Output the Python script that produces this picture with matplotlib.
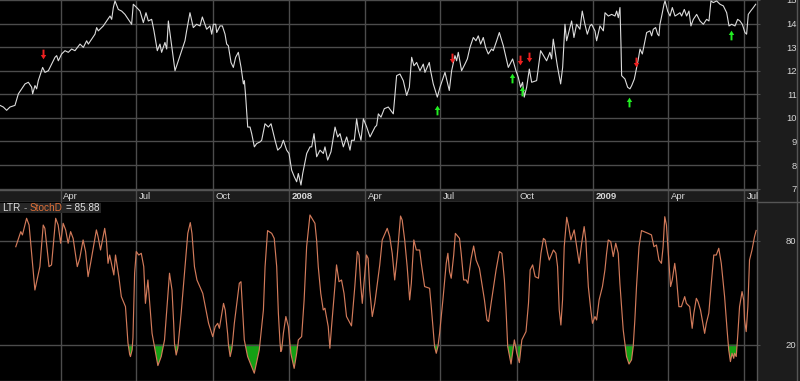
import matplotlib
matplotlib.use("Agg")
import matplotlib.pyplot as plt
import matplotlib.dates as mdates
from matplotlib.path import Path
from matplotlib.patches import Rectangle
from matplotlib.lines import Line2D
import numpy as np
import pandas as pd

plt.rcParams["font.family"] = ["Liberation Sans", "DejaVu Sans"]

x_start, x_end = "2007-01-18", "2009-07-17"

# close prices; price_day = days after x_start
price_day = [
    0, 4.0, 8.0, 12.0, 18.0, 22.1, 26.1, 30.1, 34.1, 38.1, 39.3, 42.1, 44.1, 46.1, 48.1,
    51.3, 54.1, 58.2, 62.2, 66.2, 68.2, 70.2, 74.2, 78.2, 82.2, 86.2, 90.2, 96.3, 100.3, 104.3,
    106.3, 110.3, 114.3, 116.3, 118.3, 124.3, 128.4, 132.4, 134.4, 136.4, 138.4, 142.4, 146.4, 150.4, 154.4,
    158.4, 160.4, 164.5, 168.5, 172.5, 175.7, 178.5, 182.5, 185.3, 189.3, 192.5, 194.5, 198.5, 200.6, 202.6,
    210.6, 218.6, 222.6, 224.6, 228.6, 232.6, 236.6, 240.7,
    243.5, 248.7, 252.7, 254.8, 256.8, 259.6, 260.8, 264.8, 267.6, 270.8, 272.8, 274.8, 278.0, 280.8, 283.6,
    286.8, 290.1, 292.9, 294.1, 295.7, 298.1, 300.9, 302.9, 306.1, 308.9, 312.9, 314.9, 318.9, 323.0, 326.2,
    329.0, 331.0, 334.2, 338.2, 341.0, 345.0, 347.8, 351.0, 354.2, 357.0, 359.0, 362.2, 364.3, 369.1, 373.1,
    375.1, 377.9, 381.1, 385.1, 389.1, 391.1, 394.3, 398.3, 403.2, 406.4, 409.2, 413.2, 417.2, 421.2, 423.2,
    426.4, 429.2, 431.2, 434.4, 437.3, 441.3, 445.3, 451.3, 453.3, 455.3, 458.5, 462.5, 467.3,
    473.3, 477.3, 481.3, 485.3, 489.4, 492.6, 495.4, 498.2, 501.4, 505.4, 509.4, 511.4, 516.6, 518.2, 521.4,
    526.3, 529.5, 533.5, 535.5, 540.7, 543.5, 547.5, 549.5, 551.5, 555.5, 559.5, 562.4, 565.6, 569.6, 572.8,
    575.6, 578.4, 581.6, 584.4, 587.6, 591.6, 593.6, 597.7, 600.9, 605.7, 611.7, 616.9, 620.9, 623.7, 626.5,
    628.9, 630.9, 633.8, 637.0, 639.8, 645.8, 650.6, 657.8, 661.8, 663.8, 665.8, 670.7, 674.7, 677.1, 679.9,
    681.9, 687.9, 690.7, 693.9, 697.9, 700.7, 703.9, 706.8, 710.0,
    712.0, 716.0, 718.0, 722.0, 726.1, 728.1, 732.1, 736.1, 740.1, 742.1, 744.1, 746.1, 747.3, 748.1, 752.1,
    755.3, 758.1, 760.2, 763.4, 766.2, 768.2, 770.2, 773.0, 775.4, 778.2, 782.2, 784.2, 786.2, 789.0, 791.4,
    793.0, 794.2, 796.3, 799.1, 800.3, 803.5, 806.3, 809.1, 812.3, 815.5, 818.3, 820.3, 823.5, 826.3, 829.1,
    831.5, 834.4, 838.4, 842.4, 846.4, 850.4, 853.2, 855.6, 858.4, 862.4, 866.5, 870.5, 874.5, 877.3, 880.5,
    884.5, 887.7, 890.5, 893.3, 896.5, 898.5, 900.5, 903.3, 906.6, 909.4,
]
price = [
    10.53, 10.46, 10.32, 10.46, 10.53, 11.02, 11.23, 11.44, 11.51, 11.30, 11.02, 11.37, 11.23, 11.58, 11.79,
    12.14, 11.93, 12.00, 12.28, 12.57, 12.64, 12.42, 12.71, 12.85, 12.78, 12.92, 12.85, 13.13, 12.99, 13.27,
    13.13, 13.34, 13.55, 13.83, 13.69, 13.90, 14.11, 14.32, 14.18, 14.68, 14.96, 14.60, 14.53, 14.39, 14.18,
    13.97, 14.82, 14.68, 14.53, 14.04, 14.46, 14.11, 14.18, 13.69, 12.85, 13.13, 12.78, 13.20, 12.92, 14.11,
    12.00, 12.85, 13.27, 13.69, 14.46, 13.83, 13.97, 13.90,
    14.28, 13.76, 13.90, 13.55, 13.97, 13.97, 13.62, 13.90, 13.90, 13.55, 13.13, 13.06, 12.35, 12.14, 12.57,
    12.78, 12.14, 11.44, 11.58, 10.88, 9.61, 9.61, 9.33, 8.77, 8.91, 8.98, 9.05, 9.75, 9.61, 9.75,
    9.33, 9.05, 8.63, 8.77, 9.05, 8.63, 8.49, 7.78, 7.50, 7.29, 7.64, 7.15, 7.64, 8.49, 8.77,
    8.77, 9.33, 8.35, 8.63, 8.49, 8.77, 8.21, 8.56, 9.61, 9.19, 9.33, 8.77, 9.19, 8.63, 9.05,
    9.05, 9.96, 9.47, 9.05, 9.96, 9.61, 9.19, 9.61, 9.68, 10.17, 10.03, 10.39, 10.46,
    10.17, 11.79, 11.86, 11.58, 10.95, 11.30, 12.57, 12.21, 12.35, 12.00, 12.28, 11.93, 12.35, 12.00, 11.44,
    10.88, 11.30, 11.72, 11.93, 11.16, 12.00, 12.64, 12.42, 12.78, 12.00, 12.28, 12.50, 12.99, 13.41, 13.27,
    13.48, 13.13, 13.41, 12.99, 12.71, 12.92, 12.85, 13.27, 13.62, 13.06, 12.14, 12.50, 12.00, 11.72, 11.30,
    11.51, 10.88, 11.30, 12.07, 11.51, 11.58, 12.85, 12.42, 12.78, 12.50, 13.34, 12.21, 11.44, 12.14, 13.97,
    13.27, 14.11, 13.41, 13.97, 13.76, 14.53, 13.97, 13.55, 13.90,
    13.97, 13.69, 13.27, 13.90, 13.69, 14.46, 14.32, 14.39, 14.32, 14.53, 14.25, 14.68, 13.13, 11.79, 11.65,
    11.30, 11.23, 11.37, 11.65, 12.14, 12.50, 12.92, 12.71, 13.13, 13.62, 13.69, 13.48, 13.76, 13.83, 13.55,
    13.48, 13.97, 14.32, 14.82, 14.96, 14.53, 14.32, 14.68, 14.32, 14.39, 14.46, 14.32, 14.60, 14.32, 14.53,
    13.90, 14.18, 14.39, 14.11, 13.97, 14.18, 14.11, 14.96, 14.89, 14.96, 14.82, 14.75, 14.46, 13.90, 13.97,
    13.90, 14.18, 14.11, 13.97, 13.62, 13.55, 14.39, 14.53, 14.68, 14.82,
]

# StochD, read at its turning points
stoch_dates = [
    "2007-02-06", "2007-02-12", "2007-02-14", "2007-02-19", "2007-02-22", "2007-03-01", "2007-03-07",
    "2007-03-11", "2007-03-13", "2007-03-18", "2007-03-21", "2007-03-26", "2007-03-29",
    "2007-04-01", "2007-04-04", "2007-04-07", "2007-04-10", "2007-04-13", "2007-04-16", "2007-04-21",
    "2007-04-24", "2007-04-28",
    "2007-05-01", "2007-05-04", "2007-05-07", "2007-05-14", "2007-05-16", "2007-05-19", "2007-05-24",
    "2007-05-26", "2007-05-28", "2007-05-30",
    "2007-06-04", "2007-06-06", "2007-06-10", "2007-06-13", "2007-06-18", "2007-06-21", "2007-06-23",
    "2007-06-24", "2007-06-26", "2007-06-27", "2007-06-29",
    "2007-07-01", "2007-07-04", "2007-07-07", "2007-07-10", "2007-07-12", "2007-07-15", "2007-07-20",
    "2007-07-27", "2007-07-31",
    "2007-08-04", "2007-08-10", "2007-08-13", "2007-08-15", "2007-08-16", "2007-08-18", "2007-08-20",
    "2007-08-24",
    "2007-09-01", "2007-09-04", "2007-09-06", "2007-09-09", "2007-09-12", "2007-09-19", "2007-09-26",
    "2007-10-01", "2007-10-04", "2007-10-07", "2007-10-09", "2007-10-14", "2007-10-16", "2007-10-19",
    "2007-10-20", "2007-10-22", "2007-10-24", "2007-10-25", "2007-10-27",
    "2007-11-02", "2007-11-04", "2007-11-08", "2007-11-12", "2007-11-20", "2007-11-26",
    "2007-12-01", "2007-12-03", "2007-12-06", "2007-12-11", "2007-12-14", "2007-12-17", "2007-12-19",
    "2007-12-21", "2007-12-22", "2007-12-23", "2007-12-25", "2007-12-28", "2007-12-31",
    "2008-01-03", "2008-01-07", "2008-01-10", "2008-01-12", "2008-01-16", "2008-01-19", "2008-01-22",
    "2008-01-26",
    "2008-02-01", "2008-02-03", "2008-02-05", "2008-02-08", "2008-02-11", "2008-02-13", "2008-02-17",
    "2008-02-19", "2008-02-21", "2008-02-25", "2008-02-27",
    "2008-03-01", "2008-03-04", "2008-03-07", "2008-03-10", "2008-03-16", "2008-03-20", "2008-03-23",
    "2008-03-25", "2008-03-27", "2008-03-29", "2008-03-31",
    "2008-04-03", "2008-04-05", "2008-04-07", "2008-04-10", "2008-04-13", "2008-04-19", "2008-04-22",
    "2008-04-28",
    "2008-05-01", "2008-05-04", "2008-05-07", "2008-05-10", "2008-05-14", "2008-05-16", "2008-05-19",
    "2008-05-22", "2008-05-25", "2008-05-27", "2008-05-30",
    "2008-06-02", "2008-06-06", "2008-06-08", "2008-06-12", "2008-06-18", "2008-06-20", "2008-06-24",
    "2008-06-26", "2008-06-28", "2008-06-30",
    "2008-07-04", "2008-07-08", "2008-07-10", "2008-07-12", "2008-07-14", "2008-07-17", "2008-07-19",
    "2008-07-24", "2008-07-26", "2008-07-29",
    "2008-08-01", "2008-08-03", "2008-08-07", "2008-08-10", "2008-08-13", "2008-08-17", "2008-08-23",
    "2008-08-26", "2008-08-28", "2008-08-31",
    "2008-09-06", "2008-09-10", "2008-09-13", "2008-09-16", "2008-09-18", "2008-09-20", "2008-09-24",
    "2008-09-28",
    "2008-10-01", "2008-10-04", "2008-10-07", "2008-10-12", "2008-10-15", "2008-10-17", "2008-10-20",
    "2008-10-23", "2008-10-27", "2008-10-30",
    "2008-11-02", "2008-11-04", "2008-11-07", "2008-11-09", "2008-11-14", "2008-11-17", "2008-11-19",
    "2008-11-21", "2008-11-23", "2008-11-25", "2008-11-27", "2008-11-30",
    "2008-12-02", "2008-12-05", "2008-12-09", "2008-12-12", "2008-12-15", "2008-12-18", "2008-12-21",
    "2008-12-23", "2008-12-26", "2008-12-29", "2008-12-31",
    "2009-01-03", "2009-01-05", "2009-01-08", "2009-01-12", "2009-01-15", "2009-01-17", "2009-01-19",
    "2009-01-22", "2009-01-25", "2009-01-28", "2009-01-31",
    "2009-02-02", "2009-02-06", "2009-02-10", "2009-02-13", "2009-02-16", "2009-02-18", "2009-02-20",
    "2009-02-22", "2009-02-25", "2009-02-28",
    "2009-03-08", "2009-03-12", "2009-03-15", "2009-03-18", "2009-03-21", "2009-03-24", "2009-03-26",
    "2009-03-28", "2009-03-30",
    "2009-04-01", "2009-04-04", "2009-04-06", "2009-04-09", "2009-04-11", "2009-04-14", "2009-04-17",
    "2009-04-21", "2009-04-23", "2009-04-27", "2009-04-30",
    "2009-05-02", "2009-05-05", "2009-05-07", "2009-05-10", "2009-05-15", "2009-05-17", "2009-05-20",
    "2009-05-23", "2009-05-26", "2009-05-29",
    "2009-06-01", "2009-06-04", "2009-06-08", "2009-06-11", "2009-06-13", "2009-06-15", "2009-06-17",
    "2009-06-19", "2009-06-20", "2009-06-22", "2009-06-24", "2009-06-26", "2009-06-29",
    "2009-07-01", "2009-07-02", "2009-07-04", "2009-07-06", "2009-07-08", "2009-07-11", "2009-07-14",
    "2009-07-16",
]
stoch = [
    76.5, 85.2, 83.3, 92.9, 89.0, 51.5, 65.0,
    89.0, 87.1, 65.0, 66.0, 92.9, 89.0,
    78.5, 90.0, 86.2, 78.5, 85.2, 81.3, 65.0,
    69.8, 80.4,
    73.7, 59.2, 66.9, 86.2, 82.3, 74.6, 87.1,
    80.4, 66.9, 71.7,
    60.2, 71.7, 59.2, 47.7, 41.9, 21.0, 14.5,
    13.1, 17.0, 24.0, 61.2,
    73.7, 71.7, 72.7, 65.0, 43.8, 57.3, 26.5,
    7.9, 13.1,
    22.7, 61.2, 51.5, 32.3, 20.5, 14.0, 18.0,
    38.1,
    84.2, 90.4, 84.2, 65.0, 57.3, 49.6, 32.3,
    24.6, 30.4, 32.3, 29.4, 43.8, 40.0, 26.0,
    19.5, 13.1, 17.5, 22.0, 32.3,
    55.4, 56.3, 22.7, 13.1, 3.5, 16.9,
    40.0, 65.0, 85.8, 84.2, 81.3, 65.0, 38.1,
    21.0, 16.0, 17.0, 26.5, 36.2, 30.4,
    15.0, 6.3, 15.0, 22.7, 24.6, 45.8, 76.5,
    94.8,
    90.0, 80.4, 65.0, 49.6, 40.0, 41.0, 30.4,
    17.9, 30.4, 53.5, 66.0,
    56.3, 57.3, 49.6, 36.2, 30.8, 53.5, 73.7,
    71.7, 55.4, 43.8, 55.4,
    71.7, 69.8, 51.5, 36.2, 43.8, 66.0, 80.4,
    87.1,
    82.3, 72.7, 57.3, 70.8, 94.2, 91.9, 80.4,
    65.0, 45.8, 55.4, 80.4,
    74.6, 74.6, 66.9, 53.5, 52.5, 41.9, 18.8,
    15.0, 18.8, 26.5,
    45.8, 66.9, 72.7, 62.1, 58.3, 71.7, 84.2,
    81.3, 72.7, 57.3,
    57.3, 55.4, 69.8, 76.9, 68.8, 64.0, 45.8,
    34.2, 33.3, 43.8,
    63.1, 73.7, 72.7, 57.3, 40.0, 18.8, 8.8,
    22.7,
    15.0, 9.6, 22.7, 27.5, 43.8, 63.1, 66.0,
    59.2, 58.3, 72.7,
    81.3, 80.4, 72.7, 68.8, 74.6, 72.7, 65.0,
    40.0, 31.3, 45.8, 76.5, 93.5,
    89.0, 80.4, 86.2, 76.5, 66.9, 78.5, 88.1,
    80.4, 53.5, 40.0, 32.3,
    36.2, 34.2, 45.8, 53.5, 63.1, 72.7, 80.4,
    79.4, 70.8, 78.5, 72.7,
    55.4, 28.5, 13.1, 8.8, 11.2, 18.8, 34.2,
    53.5, 76.5, 85.8,
    84.2, 83.3, 76.5, 77.5, 68.8, 66.9, 76.5,
    93.8, 89.0,
    74.6, 53.5, 57.3, 66.9, 59.2, 41.9, 41.9,
    47.7, 43.8, 41.9, 29.4,
    38.1, 46.7, 44.8, 40.0, 26.5, 32.3, 38.1,
    55.4, 71.7, 71.7,
    75.6, 66.9, 47.7, 28.5, 16.9, 10.2, 15.0,
    12.1, 15.0, 13.1, 26.5, 41.9, 50.6,
    45.8, 34.2, 27.5, 41.9, 68.8, 74.6, 82.3,
    85.88,
]

sell_dates = ["2007-03-11", "2008-07-15", "2008-10-05", "2008-10-16", "2009-02-21"]
sell_prices = [12.73, 12.54, 12.46, 12.57, 12.35]
buy_dates = ["2008-06-27", "2008-09-25", "2008-10-07", "2009-02-13", "2009-06-16"]
buy_prices = [10.32, 11.68, 11.13, 10.67, 13.52]

BG = "black"
GRID = "#4c4c4c"
TXT = "#d8d8d8"
PANEL = "#1c1c1c"
W, H = 800, 381


def px_rect(x0, y0, x1, y1):
    return [x0 / W, 1 - y1 / H, (x1 - x0) / W, (y1 - y0) / H]


price_dates = pd.Timestamp(x_start) + pd.to_timedelta(price_day, unit="D")
sd = pd.to_datetime(stoch_dates)
sv = np.array(stoch)

fig = plt.figure(figsize=(W / 100, H / 100), dpi=100, facecolor=BG)
fig.patches.append(Rectangle((757 / W, 0), 43 / W, 1, transform=fig.transFigure,
                             facecolor=PANEL, edgecolor="none", zorder=-5))
fig.add_artist(Line2D([797 / W, 797 / W], [0, 1], transform=fig.transFigure, color="#555555", lw=1))
fig.add_artist(Line2D([757 / W, 1], [1 - 202 / H] * 2, transform=fig.transFigure, color="#555555", lw=1))

ax_p = fig.add_axes(px_rect(0, 0, 757, 190))
ax_m = fig.add_axes(px_rect(0, 190, 757, 202), sharex=ax_p)
ax_s = fig.add_axes(px_rect(0, 202, 757, 381), sharex=ax_p)

loc = mdates.MonthLocator(bymonth=(1, 4, 7, 10))
for ax in (ax_p, ax_m, ax_s):
    ax.set_facecolor(BG)
    ax.xaxis.set_major_locator(loc)
    ax.tick_params(axis="x", length=0, labelbottom=False)
    ax.grid(True, axis="x", color=GRID, lw=1)
    for sp in ax.spines.values():
        sp.set_color("#555555")
        sp.set_linewidth(1)
    ax.spines["left"].set_visible(False)
    ax.spines["top"].set_visible(False)
ax_p.set_xlim(pd.Timestamp(x_start), pd.Timestamp(x_end))

# price panel
ax_p.plot(price_dates, price, color="#dcdcdc", lw=0.8)
up = Path([(-0.28, 0.05), (0, 0.5), (0.28, 0.05), (0.1, 0.05), (0.1, -0.5),
           (-0.1, -0.5), (-0.1, 0.05), (-0.28, 0.05)], closed=True)
down = Path([(x, -y) for x, y in up.vertices], closed=True)
ax_p.plot(pd.to_datetime(sell_dates), sell_prices, ls="none", marker=down, ms=7,
          color="#ee2020", mec="none")
ax_p.plot(pd.to_datetime(buy_dates), buy_prices, ls="none", marker=up, ms=7,
          color="#22ee22", mec="none")
ax_p.set_ylim(6.94, 15.0)
ax_p.set_yticks(range(7, 16))
ax_p.grid(True, axis="y", color=GRID, lw=1)

# month strip
ax_m.set_facecolor(PANEL)
ax_m.set_ylim(0, 1)
ax_m.set_yticks([])
ax_m.spines["top"].set_visible(True)
lo, hi = mdates.date2num(pd.Timestamp(x_start)), mdates.date2num(pd.Timestamp(x_end))
for t in loc.tick_values(pd.Timestamp(x_start), pd.Timestamp(x_end)):
    if not lo <= t <= hi:
        continue
    d = mdates.num2date(t)
    bold = d.month == 1
    label = str(d.year) if bold else d.strftime("%b")
    ax_m.annotate(label, (t, 0.45), xytext=(2, 0), textcoords="offset points",
                  ha="left", va="center", fontsize=6.8, color=TXT,
                  fontweight="bold" if bold else "normal")

# stochastic panel
ax_s.fill_between(sd, sv, 20, where=sv < 20, interpolate=True, color="#14a014", lw=0)
ax_s.plot(sd, sv, color="#d27a5a", lw=0.85)
ax_s.set_ylim(-1, 102.3)
ax_s.set_yticks([20, 80])
ax_s.grid(True, axis="y", color=GRID, lw=1)

for ax in (ax_p, ax_s):
    ax.yaxis.tick_right()
    ax.tick_params(axis="y", length=2, color=GRID, labelsize=6.8, labelcolor=TXT, pad=26.5)
    for lab in ax.get_yticklabels():
        lab.set_horizontalalignment("right")

# indicator caption, pieces chained by measured width
fig.canvas.draw()
r = fig.canvas.get_renderer()
pieces = [("LTR", "#e0e0e0"), ("-", "#b0b0b0"), ("StochD", "#e07038"), ("= 85.88", "#e0e0e0")]
x = 2
for s, c in pieces:
    t = ax_s.annotate(s, xy=(0, 1), xycoords="axes fraction", xytext=(x, -6),
                      textcoords="offset pixels", ha="left", va="center",
                      fontsize=7.2, color=c, zorder=4)
    x += t.get_window_extent(r).width + 3
ax_s.add_patch(Rectangle((0, 1 - 213 / H), (x - 1) / W, 10 / H, transform=fig.transFigure,
                         facecolor="#262626", edgecolor="none", zorder=3))

fig.savefig("out.png", dpi=100, facecolor=BG)
